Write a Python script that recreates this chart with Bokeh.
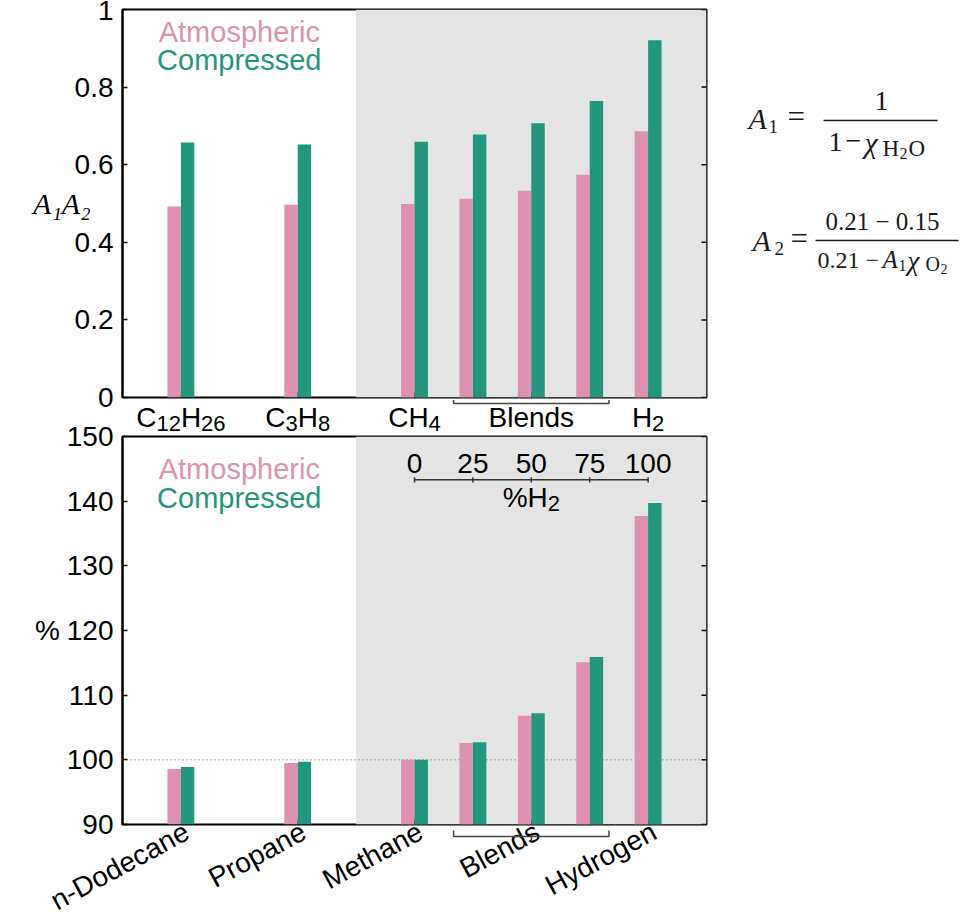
import math
import re
from bokeh.plotting import figure
from bokeh.models import Range1d, FixedTicker, BoxAnnotation, Span, ColumnDataSource
from bokeh.layouts import column, row
from bokeh.transform import dodge
from bokeh.embed import file_html
from bokeh.resources import INLINE
from bokeh.core.properties import value

# ---------------- data ----------------
fuels = ["n-Dodecane", "Propane", "Methane", "Blend 25% H2", "Blend 50% H2", "Blend 75% H2", "Hydrogen"]
fuel_x = [0, 2, 4, 5, 6, 7, 8]
a1a2_atmospheric = [0.492, 0.497, 0.499, 0.512, 0.533, 0.574, 0.686]
a1a2_compressed = [0.657, 0.652, 0.659, 0.678, 0.707, 0.764, 0.921]
pct_atmospheric = [98.6, 99.5, 100.0, 102.6, 106.8, 115.1, 137.7]
pct_compressed = [98.9, 99.7, 100.0, 102.7, 107.2, 115.9, 139.7]

group_ticks = [0, 2, 4, 6, 8]
top_group_labels = ["C_{12}H_{26}", "C_{3}H_{8}", "CH_{4}", "Blends", "H_{2}"]
bottom_group_labels = ["n-Dodecane", "Propane", "Methane", "Blends", "Hydrogen"]
top_y_ticks = [0, 0.2, 0.4, 0.6, 0.8, 1]
top_y_labels = ["0", "0.2", "0.4", "0.6", "0.8", "1"]
bottom_y_ticks = [90, 100, 110, 120, 130, 140, 150]
h2_scale_x = [4, 5, 6, 7, 8]
h2_scale_labels = ["0", "25", "50", "75", "100"]
h2_scale_title = "%H_{2}"
blends_from, blends_to, blends_mid = 4.67, 7.33, 6
shaded_from = 3
series_names = ["Atmospheric", "Compressed"]

PINK = "#de91b0"
GREEN = "#23977d"
GREY = "#e4e4e4"
SANS = "Liberation Sans"
SERIF = "Liberation Serif"
FS = 28
XMIN, XMAX = -1, 9
FRAME_W, FRAME_H = 584, 388
LEFT, RIGHT = 122, 8
UNIT = (XMAX - XMIN) / FRAME_W          # x data units per pixel
PAD = 18                                # extra border kept for edge tick labels
LIFT = 20                               # bottom strip starts this far above the axis

src = ColumnDataSource(dict(x=fuel_x, atm=a1a2_atmospheric, comp=a1a2_compressed,
                            patm=pct_atmospheric, pcomp=pct_compressed))

# Arial / Liberation Sans advance widths (em)
ADV = {"C": .722, "H": .722, "B": .667, "l": .222, "e": .556, "n": .556, "d": .556,
       "s": .5, "%": .889}


def no_align(p):
    try:
        p.frame_align = False
    except Exception:
        pass


def parse_runs(label):
    out = []
    for main, sub in re.findall(r"([^_]*)(?:_\{([^}]*)\})?", label):
        if main:
            out.append((main, False))
        if sub:
            out.append((sub, True))
    return out


def draw_runs(p, xs, y_main, y_sub, labels, size, sub_size):
    X, Y, T, OFF, SZ = [], [], [], [], []
    for x, lab in zip(xs, labels):
        runs = parse_runs(lab)
        widths = [sum(ADV.get(c, .556) for c in t) * (sub_size if s else size) for t, s in runs]
        off = -sum(widths) / 2
        for (t, s), w in zip(runs, widths):
            X.append(x); Y.append(y_sub if s else y_main); T.append(t)
            OFF.append(off); SZ.append(f"{sub_size if s else size}px")
            off += w
    p.text(x=X, y=Y, text=T, x_offset=OFF, text_font_size=SZ, text_font=value(SANS),
           text_align="left", text_baseline="middle", text_color="black")


def px_y(n, y0, y1):
    return n * (y1 - y0) / FRAME_H


def style_axes(p, yticks, y0, y1):
    ax = p.yaxis[0]
    ax.axis_line_color = "black"
    ax.axis_line_width = 2
    ax.major_tick_in = 5
    ax.major_tick_out = 0
    ax.major_tick_line_color = "black"
    ax.major_tick_line_width = 1.5
    ax.minor_tick_line_color = None
    ax.major_label_text_font = SANS
    ax.major_label_text_font_size = f"{FS}px"
    ax.major_label_text_color = "black"
    ax.major_label_standoff = 9
    ax.ticker = FixedTicker(ticks=yticks)
    p.xgrid.grid_line_color = None
    p.ygrid.grid_line_color = None
    p.outline_line_color = "black"
    p.outline_line_width = 2
    p.add_layout(BoxAnnotation(left=shaded_from, fill_color=GREY, fill_alpha=1,
                               line_color=None, level="underlay"))
    n = len(yticks)
    # inward ticks on the right frame edge
    p.segment(x0=[XMAX - 5 * UNIT] * n, y0=yticks, x1=[XMAX] * n, y1=yticks,
              line_color="black", line_width=1.5)
    # inward ticks on the bottom frame edge
    m = len(group_ticks)
    p.segment(x0=group_ticks, y0=[y0] * m, x1=group_ticks, y1=[y0 + px_y(5, y0, y1)] * m,
              line_color="black", line_width=1.5)


def y_title(p, text, standoff, font, style, size):
    ax = p.yaxis[0]
    ax.axis_label = text
    ax.axis_label_text_font = font
    ax.axis_label_text_font_style = style
    ax.axis_label_text_font_size = size
    ax.axis_label_text_color = "black"
    ax.axis_label_standoff = standoff
    try:
        ax.axis_label_orientation = "horizontal"
    except Exception:
        pass


def bars(p, atm, comp, bottom):
    p.vbar(x=dodge("x", -0.115), top=atm, bottom=bottom, width=0.23, source=src,
           fill_color=PINK, line_color=None)
    p.vbar(x=dodge("x", 0.115), top=comp, bottom=bottom, width=0.23, source=src,
           fill_color=GREEN, line_color=None)


def strip(height, top_margin):
    s = figure(width=LEFT + FRAME_W + RIGHT, height=height,
               x_range=Range1d(XMIN - LEFT * UNIT, XMAX + RIGHT * UNIT),
               y_range=Range1d(height, 0), output_backend="svg", toolbar_location=None,
               x_axis_location=None, y_axis_location=None, min_border=0,
               outline_line_color=None, background_fill_color=None, border_fill_color=None,
               margin=(top_margin, 0, 0, 0))
    no_align(s)
    s.xgrid.grid_line_color = None
    s.ygrid.grid_line_color = None
    return s


def bracket(s, y, y_end, y_mid=None):
    xs = [[blends_from, blends_from, blends_to, blends_to]]
    ys = [[y_end, y, y, y_end]]
    if y_mid is not None:
        xs.append([blends_mid, blends_mid])
        ys.append([y, y_mid])
    s.multi_line(xs=xs, ys=ys, line_color="#444444", line_width=1.5)


# ---------------- top panel ----------------
T0, T1 = 0, 1
TOP_H = 9 + FRAME_H + PAD
p1 = figure(width=LEFT + FRAME_W + RIGHT, height=TOP_H,
            x_range=Range1d(XMIN, XMAX), y_range=Range1d(T0, T1),
            output_backend="svg", toolbar_location=None, x_axis_location=None,
            min_border_left=LEFT, min_border_right=RIGHT, min_border_top=9,
            min_border_bottom=PAD)
style_axes(p1, top_y_ticks, T0, T1)
p1.yaxis.major_label_overrides = dict(zip(top_y_ticks, top_y_labels))
y_title(p1, "A\u2081A\u2082", -19, SERIF, "italic", "30px")
bars(p1, "atm", "comp", T0)
p1.text(x=[1, 1], y=[0.941, 0.869], text=series_names, text_color=[PINK, GREEN],
        text_font=value(SANS), text_font_size="29px", text_align="center",
        text_baseline="middle")

# strip under the top panel: category labels + "Blends" bracket
s1 = strip(39, -PAD)
draw_runs(s1, group_ticks, 20, 26, top_group_labels, FS, 22)
bracket(s1, 6, 2.5)

# ---------------- equations ----------------
EQ_LEFT = LEFT + FRAME_W + RIGHT
pe = figure(width=250, height=TOP_H, x_range=Range1d(EQ_LEFT, EQ_LEFT + 250),
            y_range=Range1d(TOP_H, 0),
            output_backend="svg", toolbar_location=None, x_axis_location=None,
            y_axis_location=None, min_border=0, outline_line_color=None)
no_align(pe)
pe.xgrid.grid_line_color = None
pe.ygrid.grid_line_color = None


def eq_text(x, y, t, size="26px", style="normal", align="left"):
    pe.text(x=[x], y=[y], text=[t], text_font=value(SERIF), text_font_size=size,
            text_font_style=style, text_align=align, text_baseline="middle",
            text_color="#1a1a1a")


# A1 = 1 / (1 - chi_H2O)
eq_text(748, 118, "A", "30px", "italic")
eq_text(768, 126, "1", "19px")
eq_text(787, 116, "=", "31px")
eq_text(881, 100, "1", "28px", align="center")
pe.segment(x0=[823], y0=[120], x1=[937], y1=[120], line_color="#1a1a1a", line_width=1.5)
eq_text(828, 141, "1", "28px")
eq_text(845, 140, "\u2212", "28px")
eq_text(864, 142, "\u03c7", "30px", "italic")
eq_text(882, 148, "H", "23px")
eq_text(899, 153, "2", "16px")
eq_text(908, 148, "O", "23px")
# A2 = (0.21 - 0.15) / (0.21 - A1 chi_O2)
eq_text(752, 240, "A", "30px", "italic")
eq_text(774, 248, "2", "19px")
eq_text(790, 238, "=", "31px")
eq_text(882, 221, "0.21 \u2212 0.15", "25px", align="center")
pe.segment(x0=[815], y0=[240], x1=[958], y1=[240], line_color="#1a1a1a", line_width=1.5)
eq_text(817, 259, "0.21 \u2212", "24px")
eq_text(882, 259, "A", "25px", "italic")
eq_text(898, 265, "1", "16px")
eq_text(907, 260, "\u03c7", "27px", "italic")
eq_text(925, 263, "O", "20px")
eq_text(940, 268, "2", "14px")

# ---------------- bottom panel ----------------
B0, B1 = 90, 150
TOP2 = 17
p2 = figure(width=LEFT + FRAME_W + RIGHT, height=TOP2 + FRAME_H + PAD,
            x_range=Range1d(XMIN, XMAX), y_range=Range1d(B0, B1),
            output_backend="svg", toolbar_location=None, x_axis_location=None,
            min_border_left=LEFT, min_border_right=RIGHT, min_border_top=TOP2,
            min_border_bottom=PAD, border_fill_color=None, margin=(-TOP2, 0, 0, 0))
style_axes(p2, bottom_y_ticks, B0, B1)
y_title(p2, "%", 4, SANS, "normal", f"{FS}px")
p2.add_layout(Span(location=100, dimension="width", line_dash="1 3", line_color="#555555",
                   line_width=1, level="underlay"))
bars(p2, "patm", "pcomp", B0)
p2.text(x=[1, 1], y=[145.0, 140.5], text=series_names, text_color=[PINK, GREEN],
        text_font=value(SANS), text_font_size="29px", text_align="center",
        text_baseline="middle")
# %H2 scale inset
p2.segment(x0=[h2_scale_x[0]], y0=[143.3], x1=[h2_scale_x[-1]], y1=[143.3],
           line_color="#333333", line_width=1.5)
m = len(h2_scale_x)
p2.segment(x0=h2_scale_x, y0=[142.9] * m, x1=h2_scale_x, y1=[143.7] * m,
           line_color="#333333", line_width=1.5)
p2.text(x=h2_scale_x, y=[145.8] * m, text=h2_scale_labels,
        text_font=value(SANS), text_font_size=f"{FS}px", text_align="center",
        text_baseline="middle", text_color="black")
draw_runs(p2, [blends_mid], 140.5, 140.5 - px_y(6, B0, B1), [h2_scale_title], FS, 22)

# strip under the bottom panel (starts LIFT px above the axis, transparent):
# rotated category labels + "Blends" bracket
s2 = strip(91 + LIFT, -(PAD + LIFT))
s2.text(x=group_ticks, y=[LIFT + 5] * len(group_ticks), text=bottom_group_labels,
        angle=math.radians(28.5), x_offset=6, text_font=value(SANS),
        text_font_size=f"{FS}px", text_align="right", text_baseline="middle",
        text_color="black")
bracket(s2, LIFT + 12, LIFT + 6, LIFT + 17)

layout = column(row(p1, pe), s1, p2, s2)
open("out.html", "w").write(file_html(layout, INLINE))
